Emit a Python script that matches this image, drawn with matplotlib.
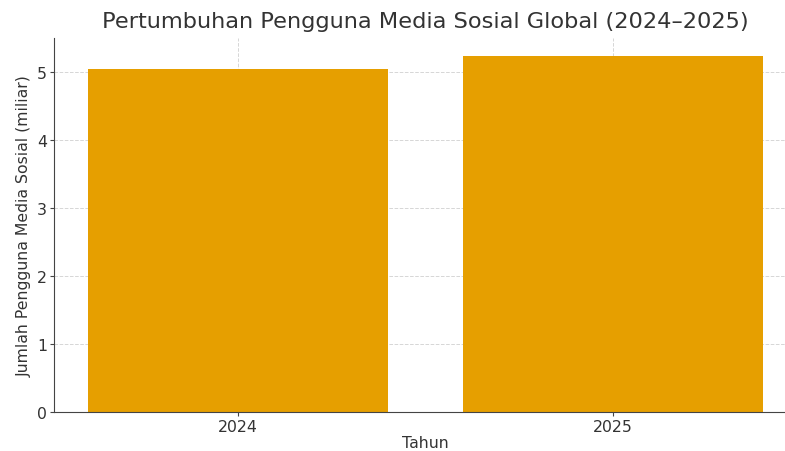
import matplotlib
matplotlib.use("Agg")
import matplotlib.pyplot as plt

years = ["2024", "2025"]
users_billion = [5.04, 5.24]

W, H = 785, 452
fig = plt.figure(figsize=(W / 100, H / 100), dpi=100)
left_px, right_px, bottom_px, top_px = 54, 797, 413, 39
ax = fig.add_axes([left_px / W, (H - bottom_px) / H,
                   (right_px - left_px) / W, (bottom_px - top_px) / H])

txt = "#333333"
ax.bar(years, users_billion, width=0.8, color="#E69F00", zorder=2)
ax.set_xlim(-0.49, 1.49)
ax.set_ylim(0, 5.5)
ax.set_yticks([0, 1, 2, 3, 4, 5])
ax.grid(True, linestyle="--", linewidth=0.7, color="#cccccc", alpha=0.8, zorder=0)
ax.set_axisbelow(True)
for s in ["top", "right"]:
    ax.spines[s].set_visible(False)
for s in ["left", "bottom"]:
    ax.spines[s].set_color("#444444")
ax.tick_params(colors="#444444", labelcolor=txt, labelsize=11.3, length=3, pad=2)
ax.set_xlabel("Tahun", fontsize=11.3, color=txt, labelpad=1)
ax.set_ylabel("Jumlah Pengguna Media Sosial (miliar)", fontsize=11.3, color=txt, labelpad=4)
fig.text(425 / W, 1 - 22 / H, "Pertumbuhan Pengguna Media Sosial Global (2024–2025)",
         ha="center", va="center", fontsize=16.2, color=txt)

fig.savefig("out.png", dpi=100)
